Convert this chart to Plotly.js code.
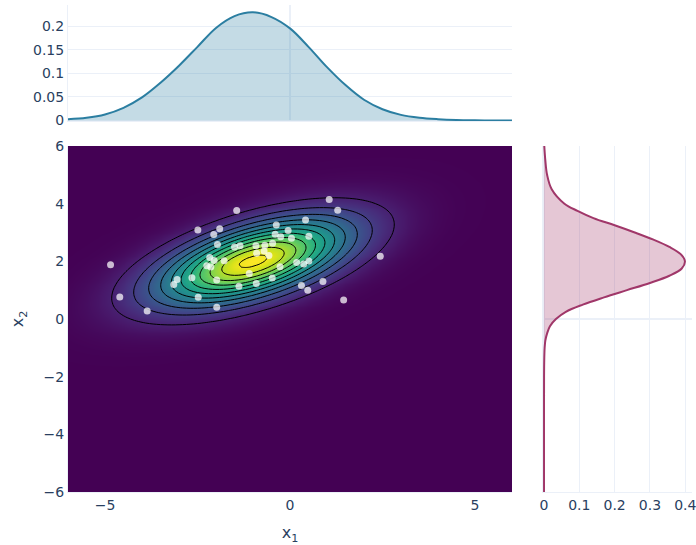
<!DOCTYPE html>
<html><head><meta charset="utf-8">
<script src="https://cdn.plot.ly/plotly-3.0.1.min.js"></script>
<style>html,body{margin:0;padding:0;background:#fff}</style>
</head><body>
<div id="chart" style="width:696px;height:545px"></div>
<script>
// Scatter sample points (x1, x2)
const sampleX1 = [-4.85,-4.60,-3.86,-3.14,-3.05,-2.65,-2.49,-2.48,-2.06,-1.90,-1.96,-1.98,-1.98,-2.17,-2.05,-2.25,-2.14,-1.78,-1.44,-1.50,-1.35,-1.38,-1.10,-0.92,-0.90,-0.91,-0.68,-0.70,-0.57,-0.47,-0.48,-0.40,-0.37,-0.27,-0.25,-0.05,0.04,0.18,0.37,0.51,0.51,0.42,0.31,0.48,0.89,1.06,1.29,1.45,2.44];
const sampleX2 = [1.88,0.76,0.28,1.20,1.37,1.43,3.09,0.75,2.93,3.13,2.58,1.35,0.41,2.13,2.03,1.85,1.80,2.02,3.76,2.50,2.54,1.14,1.58,2.54,2.28,1.23,2.56,2.36,2.20,2.63,1.42,2.94,3.26,1.81,2.85,3.07,2.80,1.96,1.91,2.01,2.87,3.43,1.16,1.00,1.30,4.14,3.77,0.66,2.18];

// Joint density parameters
const meanX1 = -1, meanX2 = 2;
const varX1 = 3, varX2 = 1, covX1X2 = 1;
const contourStart = 0.0099, contourEnd = 0.1101, contourStep = 0.01;

// Top marginal density of x1
const topX = [-6,-5.5,-5,-4.5,-4,-3.5,-3,-2.5,-2,-1.5,-1,-0.5,0,0.5,1,1.5,2,2.5,3,3.5,4,4.5,5,5.5,6];
const topDensity = [0.003,0.006,0.013,0.027,0.049,0.080,0.116,0.156,0.196,0.221,0.229,0.219,0.195,0.156,0.113,0.075,0.044,0.024,0.012,0.006,0.003,0.0013,0.0006,0.0003,0.0002];

// Right marginal density of x2
const rightY = [-6,-5,-4,-3,-2,-1.5,-1,-0.75,-0.5,-0.25,0,0.25,0.5,0.75,1,1.25,1.5,1.75,2,2.25,2.5,2.75,3,3.25,3.5,3.75,4,4.5,5,5.5,6];
const rightDensity = [0.0003,0.0003,0.0003,0.0003,0.0004,0.0008,0.002,0.004,0.009,0.017,0.034,0.062,0.110,0.170,0.235,0.300,0.355,0.390,0.399,0.387,0.355,0.310,0.257,0.200,0.140,0.095,0.058,0.022,0.009,0.004,0.001];

const mainTicksX = [-5,0,5];
const mainTicksY = [-6,-4,-2,0,2,4,6];
const topTicks = [0,0.05,0.1,0.15,0.2];
const topTickText = ['0','0.05','0.1','0.15','0.2'];
const rightTicks = [0,0.1,0.2,0.3,0.4];
const rightTickText = ['0','0.1','0.2','0.3','0.4'];

// Grid for the joint density surface
const gridX = [], gridY = [];
for (let i = 0; i <= 120; i++) { gridX.push(-6 + i * 0.1); gridY.push(-6 + i * 0.1); }
const det = varX1 * varX2 - covX1X2 * covX1X2;
const norm = 1 / (2 * Math.PI * Math.sqrt(det));
const z = gridY.map(y => gridX.map(x => {
  const dx = x - meanX1, dy = y - meanX2;
  const q = (varX2 * dx * dx - 2 * covX1X2 * dx * dy + varX1 * dy * dy) / det;
  return norm * Math.exp(-0.5 * q);
}));

const grid = '#EBF0F8';
const traces = [
  {type:'contour', x:gridX, y:gridY, z:z, colorscale:'Viridis', showscale:false,
   zmin:0, zmax:norm, autocontour:false,
   contours:{coloring:'heatmap', start:contourStart, end:contourEnd, size:contourStep, showlines:true},
   line:{color:'black', width:1}, xaxis:'x', yaxis:'y', hoverinfo:'skip'},
  {type:'scatter', mode:'markers', x:sampleX1, y:sampleX2, xaxis:'x', yaxis:'y',
   marker:{color:'rgba(255,255,255,0.72)', size:7}, showlegend:false},
  {type:'scatter', mode:'lines', x:topX, y:topDensity, xaxis:'x2', yaxis:'y2',
   fill:'tozeroy', fillcolor:'rgba(43,126,161,0.28)',
   line:{color:'rgb(43,126,161)', width:2, shape:'spline'}, showlegend:false},
  {type:'scatter', mode:'lines', x:rightDensity, y:rightY, xaxis:'x3', yaxis:'y3',
   fill:'tozerox', fillcolor:'rgba(160,55,105,0.28)',
   line:{color:'rgb(160,55,105)', width:2, shape:'spline'}, showlegend:false}
];

const axBase = {gridcolor:grid, linecolor:grid, zerolinecolor:grid, zerolinewidth:2, ticks:'', automargin:false, ticklabeloverflow:'allow'};
const layout = {
  width:696, height:545,
  margin:{l:68, r:4, t:5, b:53, pad:0},
  paper_bgcolor:'white', plot_bgcolor:'white',
  font:{family:'"DejaVu Sans", Verdana, sans-serif', size:14, color:'#2a3f5f'},
  showlegend:false,
  xaxis:Object.assign({}, axBase, {domain:[0,0.7115], range:[-6,6], tickvals:mainTicksX, ticktext:['−5','0','5'],
    showgrid:false, zeroline:false, anchor:'y', title:{text:'x<sub>1</sub>', font:{size:16}, standoff:15}}),
  yaxis:Object.assign({}, axBase, {domain:[0,0.7105], range:[-6,6], tickvals:mainTicksY, ticktext:['−6','−4','−2','0','2','4','6'],
    showgrid:false, zeroline:false, anchor:'x', title:{text:'x<sub>2</sub>', font:{size:16}, standoff:15}}),
  xaxis2:Object.assign({}, axBase, {domain:[0,0.7115], range:[-6,6], anchor:'y2', showticklabels:false, showgrid:false, zeroline:true}),
  yaxis2:Object.assign({}, axBase, {domain:[0.762,1], range:[-0.0007,0.2445], anchor:'x2', tickvals:topTicks, ticktext:topTickText, showgrid:true, zeroline:true}),
  xaxis3:Object.assign({}, axBase, {domain:[0.761,1], range:[-0.003,0.419], anchor:'y3', tickvals:rightTicks, ticktext:rightTickText, showgrid:true, zeroline:true}),
  yaxis3:Object.assign({}, axBase, {domain:[0,0.7105], range:[-6,6], anchor:'x3', showticklabels:false, showgrid:false, zeroline:true})
};
Plotly.newPlot('chart', traces, layout, {displayModeBar:false, staticPlot:true});
</script>
</body></html>
